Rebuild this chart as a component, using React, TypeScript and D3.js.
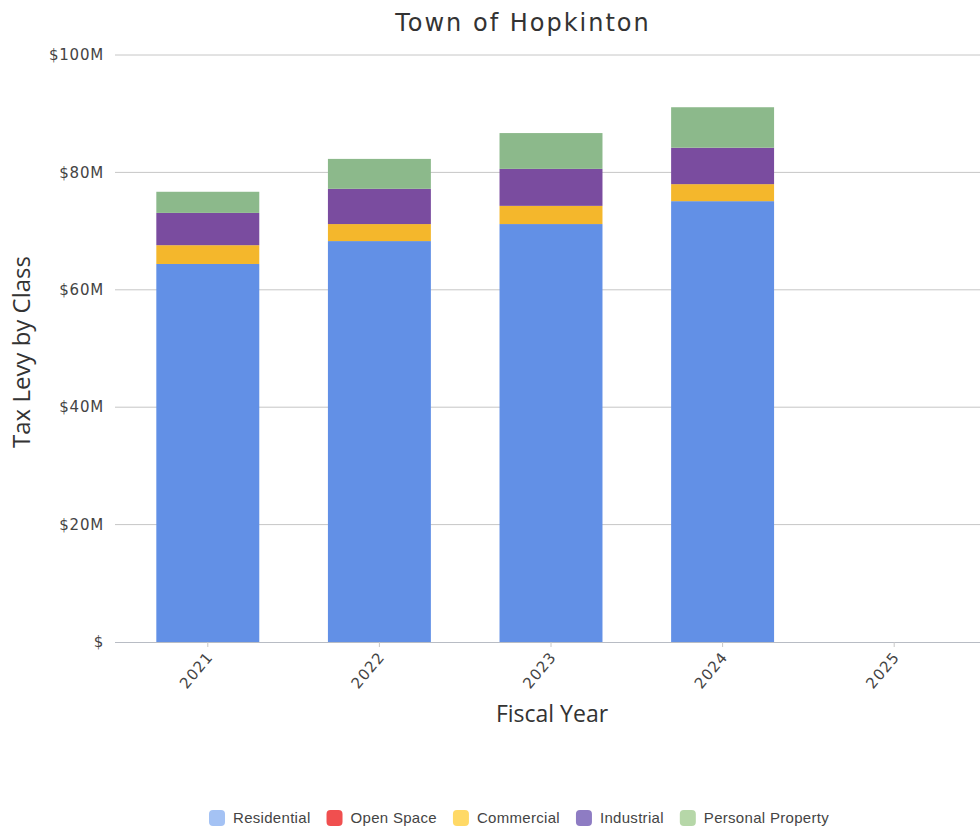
import React, { useEffect, useRef } from "react";
import * as d3 from "d3";

const years = ["2021", "2022", "2023", "2024", "2025"];
const classes = ["Residential", "Open Space", "Commercial", "Industrial", "Personal Property"];
// Levy in $ millions per class, per fiscal year
const residential = [64.4, 68.3, 71.2, 75.1, 0];
const openSpace = [0, 0, 0, 0, 0];
const commercial = [3.2, 2.9, 3.1, 2.9, 0];
const industrial = [5.5, 6.0, 6.3, 6.2, 0];
const personalProperty = [3.6, 5.1, 6.1, 6.9, 0];
const yTicks = [0, 20, 40, 60, 80, 100];

const barColors = ["#6290e6", "#e84a4a", "#f4b72c", "#7a4c9f", "#8cb98b"];
const legendColors = ["#a4c2f4", "#f04f4f", "#ffd966", "#8e7cc3", "#b6d7a8"];

const W = 980;
const H = 833;

export default function App() {
  const ref = useRef<SVGSVGElement>(null);

  useEffect(() => {
    const svg = d3.select(ref.current);
    svg.selectAll("*").remove();

    const plotLeft = 115;
    const plotRight = 980;
    const plotTop = 55;
    const plotBottom = 642;

    const x = d3.scaleBand().domain(years).range([122, 980]).paddingInner(0.4).paddingOuter(0.2);
    const y = d3.scaleLinear().domain([0, 100]).range([plotBottom, plotTop]);

    const rows = years.map((yr, i) => ({
      year: yr,
      "Residential": residential[i],
      "Open Space": openSpace[i],
      "Commercial": commercial[i],
      "Industrial": industrial[i],
      "Personal Property": personalProperty[i],
    }));
    const stacked = d3.stack<any>().keys(classes)(rows);

    // gridlines
    svg
      .append("g")
      .selectAll("line")
      .data(yTicks.filter((t) => t > 0))
      .join("line")
      .attr("x1", plotLeft)
      .attr("x2", plotRight)
      .attr("y1", (d) => y(d))
      .attr("y2", (d) => y(d))
      .attr("stroke", "#c6c6c6")
      .attr("stroke-width", 1);

    // y tick labels
    svg
      .append("g")
      .selectAll("text")
      .data(yTicks)
      .join("text")
      .attr("x", 104)
      .attr("y", (d) => y(d))
      .attr("dy", "0.35em")
      .attr("text-anchor", "end")
      .attr("font-family", "DejaVu Sans, Verdana, sans-serif")
      .attr("font-size", 15)
      .attr("letter-spacing", 0.8)
      .attr("fill", "#444")
      .text((d) => (d === 0 ? "$" : `$${d}M`));

    // bars
    svg
      .append("g")
      .selectAll("g")
      .data(stacked)
      .join("g")
      .attr("fill", (_d, i) => barColors[i])
      .selectAll("rect")
      .data((d) => d)
      .join("rect")
      .attr("x", (d: any) => x(d.data.year)!)
      .attr("width", x.bandwidth())
      .attr("y", (d) => y(d[1]))
      .attr("height", (d) => Math.max(0, y(d[0]) - y(d[1])));

    // baseline
    svg
      .append("line")
      .attr("x1", plotLeft)
      .attr("x2", plotRight)
      .attr("y1", plotBottom + 0.5)
      .attr("y2", plotBottom + 0.5)
      .attr("stroke", "#b8bcc4")
      .attr("stroke-width", 1);

    // x ticks and labels
    const xg = svg.append("g");
    years.forEach((yr) => {
      const cx = x(yr)! + x.bandwidth() / 2;
      xg.append("line")
        .attr("x1", cx)
        .attr("x2", cx)
        .attr("y1", plotBottom)
        .attr("y2", plotBottom + 5)
        .attr("stroke", "#c8c8c8");
      xg.append("text")
        .attr("transform", `translate(${cx + 2},${plotBottom + 12}) rotate(-50)`)
        .attr("text-anchor", "end")
        .attr("dy", "0.35em")
        .attr("font-family", "DejaVu Sans, Verdana, sans-serif")
        .attr("font-size", 15)
        .attr("letter-spacing", 1)
        .attr("fill", "#444")
        .text(yr);
    });

    // title
    svg
      .append("text")
      .attr("x", 523)
      .attr("y", 31)
      .attr("text-anchor", "middle")
      .attr("font-family", "DejaVu Sans, Verdana, sans-serif")
      .attr("font-size", 24)
      .attr("letter-spacing", 2)
      .attr("fill", "#333")
      .text("Town of Hopkinton");

    // axis titles
    svg
      .append("text")
      .attr("x", 552)
      .attr("y", 722)
      .attr("text-anchor", "middle")
      .attr("font-family", "Open Sans, sans-serif")
      .attr("font-size", 23)
      .attr("fill", "#333")
      .text("Fiscal Year");

    svg
      .append("text")
      .attr("transform", `translate(30,352) rotate(-90)`)
      .attr("text-anchor", "middle")
      .attr("font-family", "Open Sans, sans-serif")
      .attr("font-size", 24)
      .attr("fill", "#333")
      .text("Tax Levy by Class");

    // legend
    const lg = svg.append("g");
    const items = classes.map((c, i) => {
      const g = lg.append("g");
      g.append("rect")
        .attr("x", 0)
        .attr("y", -8)
        .attr("width", 16)
        .attr("height", 16)
        .attr("rx", 4)
        .attr("fill", legendColors[i]);
      const t = g
        .append("text")
        .attr("x", 24)
        .attr("y", 0)
        .attr("dy", "0.35em")
        .attr("font-family", "Liberation Sans, Arial, sans-serif")
        .attr("font-size", 15)
        .attr("letter-spacing", 0.3)
        .attr("fill", "#444")
        .text(c);
      const w = 24 + (t.node() as SVGTextElement).getComputedTextLength();
      return { g, w };
    });
    const gap = 16;
    const total = items.reduce((s, it) => s + it.w, 0) + gap * (items.length - 1);
    let cx = 519 - total / 2;
    items.forEach((it) => {
      it.g.attr("transform", `translate(${cx},818)`);
      cx += it.w + gap;
    });
  }, []);

  return (
    <svg
      ref={ref}
      width={W}
      height={H}
      style={{ position: "absolute", left: 0, top: 0, background: "#fff" }}
    />
  );
}
